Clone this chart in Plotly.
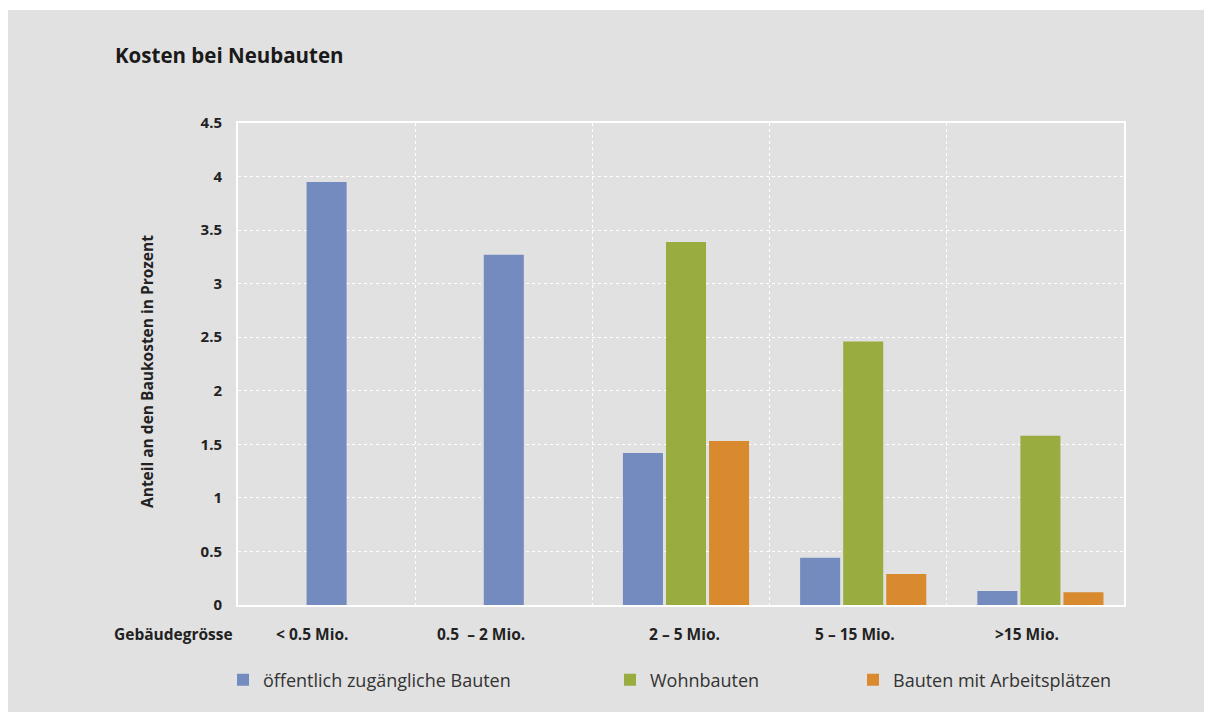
import plotly.graph_objects as go

categories = ["< 0.5 Mio.", "0.5  – 2 Mio.", "2 – 5 Mio.", "5 – 15 Mio.", ">15 Mio."]
series_names = ["öffentlich zugängliche Bauten", "Wohnbauten", "Bauten mit Arbeitsplätzen"]
oeffentlich = [3.95, 3.27, 1.42, 0.44, 0.13]
wohnbauten = [None, None, 3.39, 2.46, 1.58]
arbeitsplaetze = [None, None, 1.53, 0.29, 0.12]
colors = ["#738bbf", "#98ac40", "#d98a2f"]
y_ticks = [0, 0.5, 1, 1.5, 2, 2.5, 3, 3.5, 4, 4.5]

# style: horizontal nudges (px) of the category labels as typeset in the original
label_xshift = [-15, -23, 3, -3, -8]

FONT = "Open Sans"
SH = 8  # page body margin offset
W, H = 1212 - SH, 712 - SH
L, R, T, B = 238, 1124, 123, 605  # plot area in page pixels
pw, ph = R - L, B - T

def px_x(x):
    return (x - L) / pw

def px_y(y):
    return (B - y) / ph

series = [oeffentlich, wohnbauten, arbeitsplaetze]
bw, gap = 0.226, 0.017
group_shift = 5 / (pw / len(categories))

offsets = [[None] * len(categories) for _ in series]
for i in range(len(categories)):
    present = [s for s in range(len(series)) if series[s][i] is not None]
    n = len(present)
    total = n * bw + (n - 1) * gap
    start = -total / 2 + (group_shift if n > 1 else 0)
    for k, s in enumerate(present):
        offsets[s][i] = start + k * (bw + gap)

fig = go.Figure()
legend_ids = ["legend", "legend2", "legend3"]
for s, (name, vals) in enumerate(zip(series_names, series)):
    fig.add_trace(go.Bar(
        x=categories, y=vals, name=name,
        marker=dict(color=colors[s], line=dict(width=0)),
        width=bw, offset=[o if o is not None else 0 for o in offsets[s]],
        legend=legend_ids[s],
    ))

legend_text_x = [263, 650, 893]
leg_common = dict(orientation="h", yanchor="middle", y=px_y(680), xanchor="left",
                  bgcolor="rgba(0,0,0,0)", font=dict(family=FONT, size=18, color="#333"))
layout_legends = {}
for lid, tx in zip(legend_ids, legend_text_x):
    layout_legends[lid] = dict(leg_common, x=px_x(tx - 40))

fig.update_layout(
    width=W, height=H,
    margin=dict(l=L - SH, r=W - (R - SH), t=T - SH, b=H - (B - SH)),
    paper_bgcolor="#e1e1e1",
    plot_bgcolor="#e1e1e1",
    barmode="overlay",
    showlegend=True,
    font=dict(family=FONT, color="#222"),
    title=dict(text="<b>Kosten bei Neubauten</b>", x=(115 - SH) / W, xref="container", xanchor="left",
               y=1 - (56 - SH) / H, yref="container", yanchor="middle",
               font=dict(family=FONT, size=20.5, color="#1a1a1a")),
    xaxis=dict(
        type="category", tickson="boundaries",
        showgrid=True, gridcolor="white", griddash="dot", gridwidth=1,
        showline=True, linecolor="white", linewidth=2, mirror=True,
        ticks="", showticklabels=False,
    ),
    yaxis=dict(
        range=[0, 4.5], tickvals=y_ticks, ticktext=[f"{v:g}" for v in y_ticks],
        showgrid=True, gridcolor="white", griddash="dot", gridwidth=1,
        zeroline=False,
        showline=True, linecolor="white", linewidth=2, mirror=True,
        ticks="", tickfont=dict(family=FONT, size=15, color="#222", weight="bold"),
        ticklabelstandoff=11,
    ),
    **layout_legends,
)

# white strip at the top and left of the page (outside the grey card)
fig.add_shape(type="rect", xref="paper", yref="paper", layer="below",
              x0=px_x(0), x1=px_x(1300), y0=px_y(10), y1=px_y(-20),
              fillcolor="white", line=dict(width=0))
fig.add_shape(type="rect", xref="paper", yref="paper", layer="below",
              x0=px_x(-20), x1=px_x(7), y0=px_y(800), y1=px_y(-20),
              fillcolor="white", line=dict(width=0))

# y-axis title
fig.add_annotation(text="<b>Anteil an den Baukosten in Prozent</b>", xref="paper", yref="paper",
                   x=px_x(147), y=px_y(372), xanchor="center", yanchor="middle",
                   textangle=-90, showarrow=False,
                   font=dict(family=FONT, size=15.5, color="#222"))

# category labels
for cat, dx in zip(categories, label_xshift):
    fig.add_annotation(text=f"<b>{cat}</b>", x=cat, xref="x", yref="paper", y=px_y(634),
                       xanchor="center", yanchor="middle", xshift=dx, showarrow=False,
                       font=dict(family=FONT, size=15.5, color="#222"))

fig.add_annotation(text="<b>Gebäudegrösse</b>", xref="paper", yref="paper",
                   x=px_x(235), y=px_y(634), xanchor="right", yanchor="middle",
                   showarrow=False, font=dict(family=FONT, size=15.5, color="#222"))

fig.write_html("out.html")
